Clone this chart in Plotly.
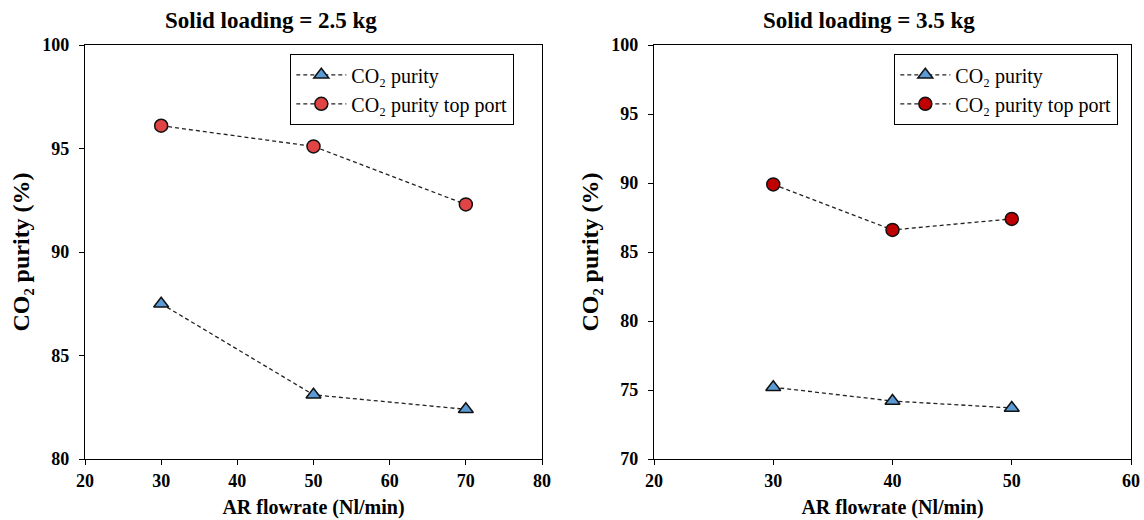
import plotly.graph_objects as go

# Left panel: solid loading 2.5 kg
flow_left = [30, 50, 70]
purity_left = [87.5, 83.1, 82.4]
purity_top_left = [96.1, 95.1, 92.3]

# Right panel: solid loading 3.5 kg
flow_right = [30, 40, 50]
purity_right = [75.2, 74.2, 73.7]
purity_top_right = [89.9, 86.6, 87.4]

titles = ["Solid loading = 2.5 kg", "Solid loading = 3.5 kg"]
series_names = ["CO₂ purity", "CO₂ purity top port"]
x_title = "AR flowrate (Nl/min)"
y_title = "CO₂ purity (%)"

FONT = "Liberation Serif"
BLUE = "#5B9BD5"
RED_L = "#E04444"
RED_R = "#C00000"
DASH = "4px,3px"

fig = go.Figure()

def add(x, y, name, symbol, color, size, xa, ya, legend):
    fig.add_trace(go.Scatter(
        x=x, y=y, name=name, mode="lines+markers",
        line=dict(color="#222222", width=1.3, dash=DASH),
        marker=dict(symbol=symbol, color=color, size=size,
                    line=dict(color="#111111", width=1.5)),
        xaxis=xa, yaxis=ya, legend=legend))

add(flow_left, purity_left, series_names[0], "triangle-up", BLUE, 13, "x", "y", "legend")
add(flow_left, purity_top_left, series_names[1], "circle", RED_L, 13, "x", "y", "legend")
add(flow_right, purity_right, series_names[0], "triangle-up", BLUE, 13, "x2", "y2", "legend2")
add(flow_right, purity_top_right, series_names[1], "circle", RED_R, 13, "x2", "y2", "legend2")

W, H = 1144, 520
def px(x):
    return x / W
def py(y):
    return 1 - y / H

tick_font = dict(family=FONT, size=18, color="black", weight="bold")
axis_common = dict(
    showline=True, linecolor="black", linewidth=1.3, mirror=True,
    ticks="outside", ticklen=5, tickwidth=1.3, tickcolor="black",
    showgrid=False, zeroline=False, automargin=False,
    tickfont=tick_font,
)
xt_font = dict(family=FONT, size=20, color="black", weight="bold")
yt_font = dict(family=FONT, size=24, color="black", weight="bold")

legend_common = dict(
    xanchor="left", yanchor="top",
    bgcolor="white", bordercolor="black", borderwidth=1.3,
    font=dict(family=FONT, size=20, color="black"),
    itemwidth=50,
)

fig.update_layout(
    width=W, height=H,
    margin=dict(l=0, r=0, t=0, b=0, autoexpand=False),
    paper_bgcolor="white", plot_bgcolor="white",
    font=dict(family=FONT),
    xaxis=dict(domain=[px(85), px(542)], range=[20, 80], dtick=10,
               title=dict(text=x_title, font=xt_font, standoff=10),
               anchor="y", **axis_common),
    yaxis=dict(domain=[py(459), py(45)], range=[80, 100], dtick=5,
               title=dict(text=y_title, font=yt_font, standoff=5),
               ticklabelstandoff=6,
               anchor="x", **axis_common),
    xaxis2=dict(domain=[px(654), px(1131)], range=[20, 60], dtick=10,
                title=dict(text=x_title, font=xt_font, standoff=10),
                anchor="y2", **axis_common),
    yaxis2=dict(domain=[py(459), py(45)], range=[70, 100], dtick=5,
                title=dict(text=y_title, font=yt_font, standoff=5),
                ticklabelstandoff=6,
                anchor="x2", **axis_common),
    legend=dict(x=px(290), y=py(54), **legend_common),
    legend2=dict(x=px(894), y=py(54), **legend_common),
    showlegend=True,
    annotations=[
        dict(text=titles[0], x=px(271), y=py(21), xref="paper", yref="paper",
             showarrow=False, xanchor="center", yanchor="middle",
             font=dict(family=FONT, size=23, color="black", weight="bold")),
        dict(text=titles[1], x=px(869), y=py(21), xref="paper", yref="paper",
             showarrow=False, xanchor="center", yanchor="middle",
             font=dict(family=FONT, size=23, color="black", weight="bold")),
    ],
)

fig.write_html("out.html",
               config={"displayModeBar": False},
               post_script="document.body.style.margin='0px';")
